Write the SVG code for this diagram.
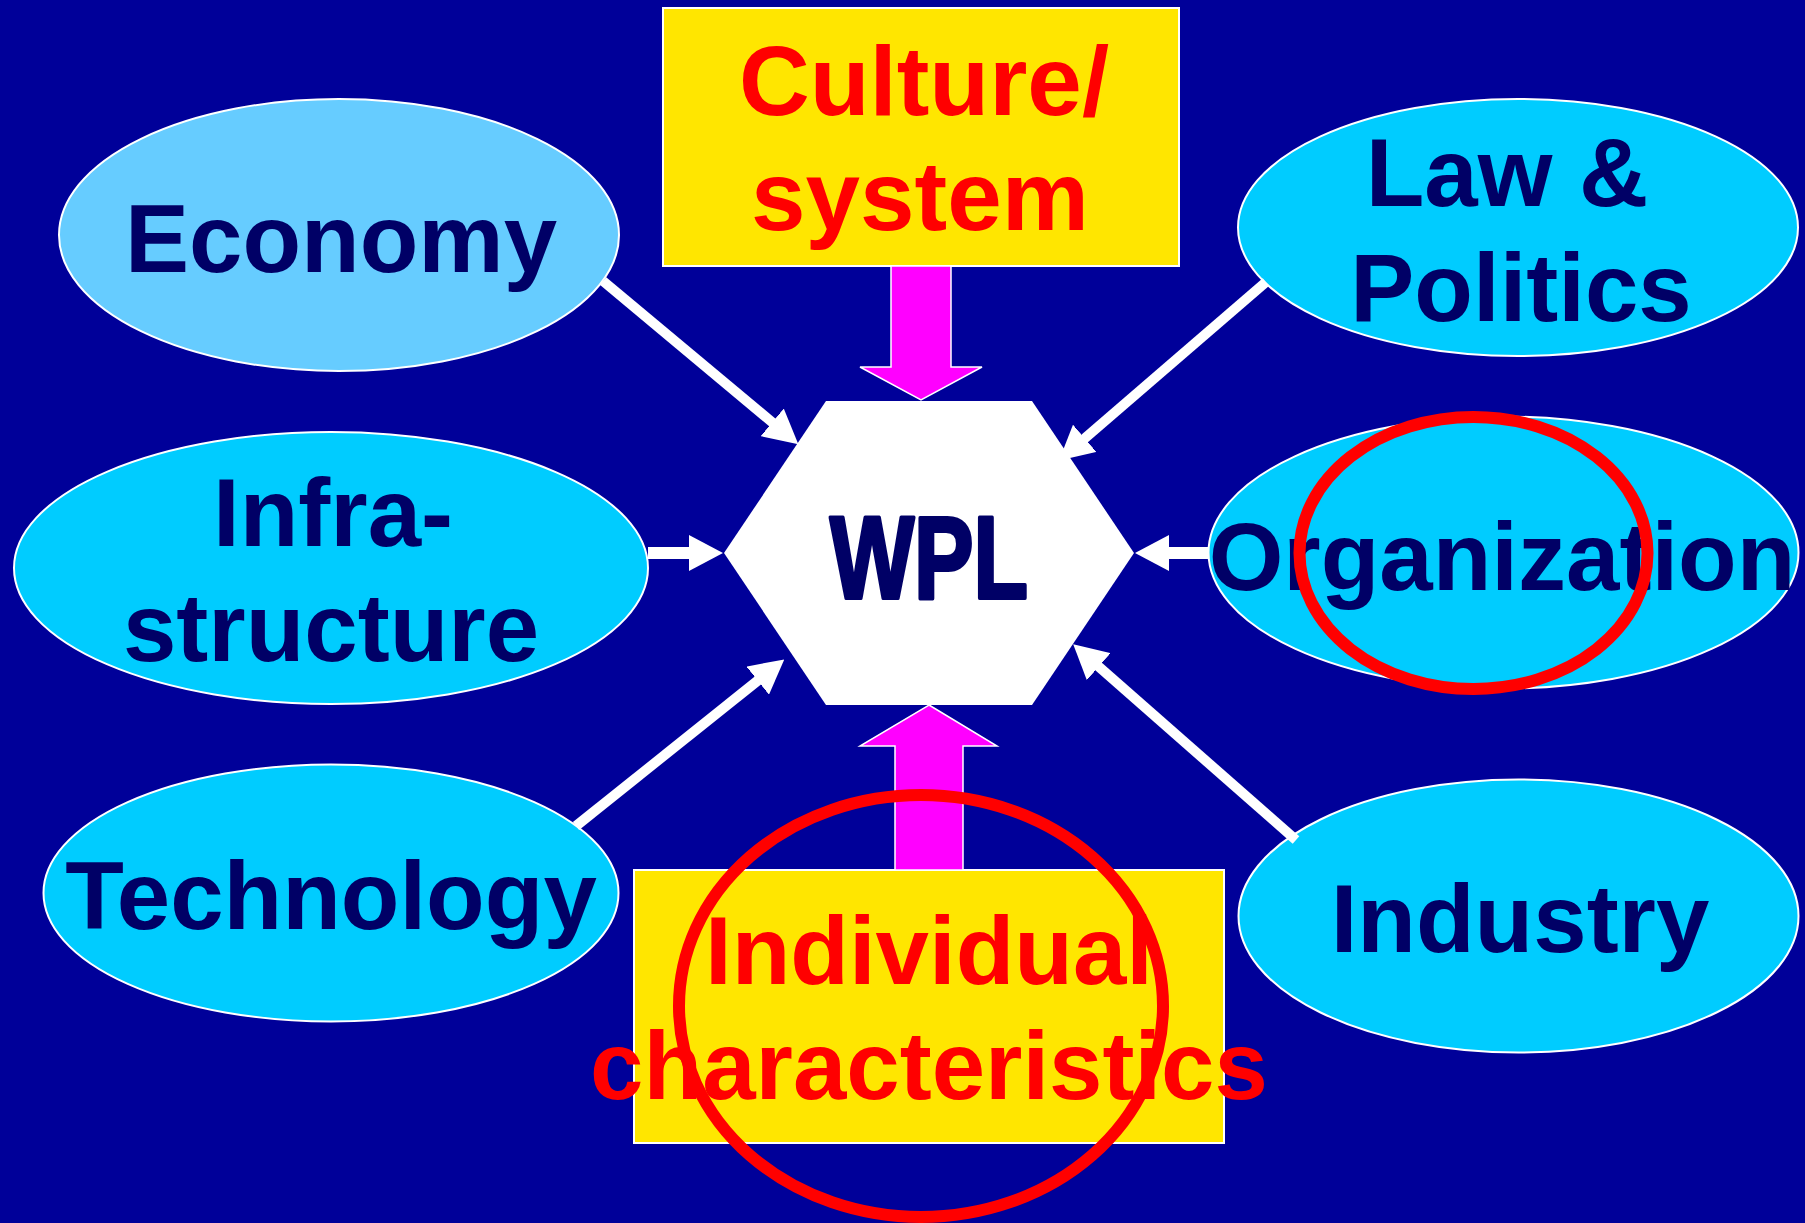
<svg xmlns="http://www.w3.org/2000/svg" width="1805" height="1223" viewBox="0 0 1805 1223">
<style>
.bg{fill:#000099}
.ell{fill:#00CCFF;stroke:#FFFFFF;stroke-width:2}
.ell.light{fill:#66CCFF}
.box{fill:#FFE600;stroke:#FFFFFF;stroke-width:2}
.lbl{font-family:"Liberation Sans",Arial,sans-serif;font-weight:bold;font-size:96px;fill:#000066;text-anchor:middle}
.red{fill:#FF0000}
.conn{stroke:#FFFFFF;fill:none;marker-end:url(#arrow)}
.diag{stroke-width:10}
.horiz{stroke-width:12}
.big{fill:#FF00FF;stroke:#FFFFFF;stroke-width:1.5}
.ring{fill:none;stroke:#FF0000;stroke-width:12}
</style>
<defs>
<marker id="arrow" viewBox="0 0 34 36" markerWidth="34" markerHeight="36" refX="1" refY="18" orient="auto" markerUnits="userSpaceOnUse">
<path d="M0,0 L34,18 L0,36 z" fill="#FFFFFF"/>
</marker>
</defs>
<rect class="bg" x="0" y="0" width="1805" height="1223"/>

<g id="economy">
<ellipse class="ell light" cx="339" cy="235" rx="280" ry="136"/>
<text class="lbl" x="341" y="272">Economy</text>
</g>
<g id="law-politics">
<ellipse class="ell" cx="1518" cy="227.5" rx="280" ry="128.5"/>
<text class="lbl" x="1507" y="206">Law &amp;</text>
<text class="lbl" x="1521" y="321">Politics</text>
</g>
<g id="infrastructure">
<ellipse class="ell" cx="331" cy="568" rx="317" ry="136"/>
<text class="lbl" x="333" y="546">Infra-</text>
<text class="lbl" x="331" y="661">structure</text>
</g>
<g id="organization">
<ellipse class="ell" cx="1503.5" cy="552.5" rx="295" ry="136"/>
<text class="lbl" x="1502" y="590">Organization</text>
</g>
<g id="technology">
<ellipse class="ell" cx="331" cy="893" rx="287.5" ry="128.5"/>
<text class="lbl" x="331" y="929">Technology</text>
</g>
<g id="industry">
<ellipse class="ell" cx="1518.5" cy="916" rx="280" ry="136.5"/>
<text class="lbl" x="1520" y="952">Industry</text>
</g>

<g id="culture-system">
<rect class="box" x="663" y="8" width="516" height="258"/>
<text class="lbl red" style="font-size:98px" x="924" y="115">Culture/</text>
<text class="lbl red" style="font-size:98px" x="920" y="230">system</text>
</g>

<g id="wpl">
<polygon points="826,401 1032,401 1134,553 1032,705 826,705 724,553" fill="#FFFFFF"/>
<text x="929" y="598" font-family="'Liberation Sans',Arial,sans-serif" font-weight="bold" font-size="117" fill="#000066" stroke="#000066" stroke-width="4" stroke-linejoin="round" text-anchor="middle" textLength="198" lengthAdjust="spacingAndGlyphs">WPL</text>
</g>

<g id="individual-characteristics">
<rect class="box" x="634" y="870" width="590" height="273"/>
<text class="lbl red" x="929" y="984">Individual</text>
<text class="lbl red" x="929" y="1099">characteristics</text>
</g>

<g id="connectors">
<line class="conn diag" x1="603" y1="281" x2="773" y2="423"/>
<line class="conn diag" x1="1266" y1="282" x2="1084" y2="439"/>
<line class="conn horiz" x1="648" y1="553" x2="690" y2="553"/>
<line class="conn horiz" x1="1209" y1="553" x2="1168" y2="553"/>
<line class="conn diag" x1="576" y1="826" x2="758.5" y2="680"/>
<line class="conn diag" x1="1296" y1="840" x2="1098" y2="666"/>
<polygon class="big" points="891,266 951,266 951,367 982,367 921,400 860,367 891,367"/>
<polygon class="big" points="929,705 997,746 963,746 963,870 895,870 895,746 860,746"/>
</g>

<g id="highlights">
<ellipse class="ring" cx="1473.5" cy="553" rx="174" ry="136"/>
<ellipse class="ring" cx="921" cy="1006" rx="242" ry="211"/>
</g>
</svg>
